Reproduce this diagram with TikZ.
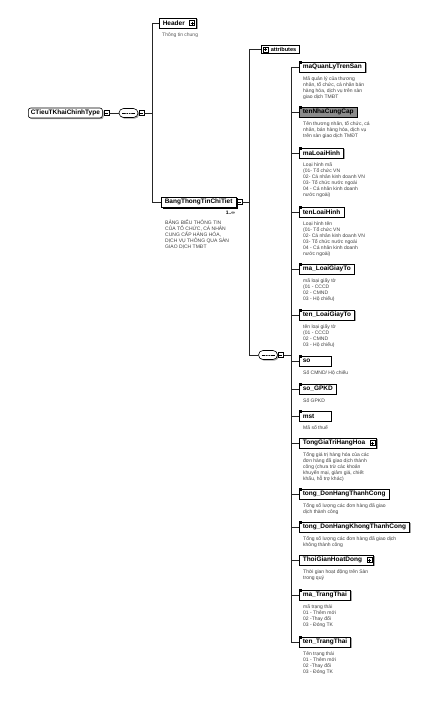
\documentclass[tikz,border=0pt]{standalone}
\usepackage{fontspec}
\setmainfont{Liberation Sans}
\usetikzlibrary{shapes.misc,shadows,calc}

\tikzset{
  ln/.style={line width=0.6pt, draw=black!85},
  shad/.style={drop shadow={shadow xshift=1.2pt, shadow yshift=-1.2pt, fill=black!50, opacity=0.7}},
  elbox/.style={draw=black, line width=0.6pt, fill=white, anchor=west, minimum height=10pt, minimum width=32pt,
    inner xsep=3.5pt, inner ysep=0pt, font=\fontsize{6.5}{7}\selectfont\bfseries, shad},
  selbox/.style={elbox, fill=black!45},
  descr/.style={anchor=north west, align=left, inner sep=0pt, text=black!75, font=\fontsize{5}{6}\selectfont},
  iconbox/.style={draw, fill=white, line width=0.45pt, minimum size=5pt, inner sep=0pt},
  plusicon/.style={iconbox, path picture={
     \draw[line width=0.4pt] ([xshift=1pt]path picture bounding box.west) -- ([xshift=-1pt]path picture bounding box.east);
     \draw[line width=0.4pt] ([yshift=-1pt]path picture bounding box.north) -- ([yshift=1pt]path picture bounding box.south);}},
  minusicon/.style={iconbox, path picture={
     \draw[line width=0.4pt] ([xshift=1pt]path picture bounding box.west) -- ([xshift=-1pt]path picture bounding box.east);}},
  seqbox/.style={rounded rectangle, draw, line width=0.6pt, fill=white, minimum width=19pt, minimum height=9pt,
    inner sep=0pt, shad, path picture={
     \draw[line width=0.4pt] ([xshift=3pt]path picture bounding box.west) -- ([xshift=-3pt]path picture bounding box.east);
     \fill (path picture bounding box.center) circle (0.75pt);
     \fill ([xshift=-2.3pt]path picture bounding box.center) circle (0.75pt);
     \fill ([xshift=2.3pt]path picture bounding box.center) circle (0.75pt);}},
  typebox/.style={draw, line width=0.6pt, fill=white, rounded corners=2.5pt, anchor=west, minimum height=10pt,
    inner xsep=2.5pt, inner ysep=0pt, font=\fontsize{6.5}{7}\selectfont\bfseries, shad},
  attrbox/.style={draw, line width=0.6pt, fill=white, anchor=west, minimum height=7.5pt, inner xsep=2.5pt, inner ysep=0pt,
    font=\fontsize{5.6}{6}\selectfont\bfseries},
  multbox/.style={elbox, copy shadow={shadow xshift=1.6pt, shadow yshift=-1.6pt, fill=white, draw=black, line width=0.6pt}},
}
\newcommand\tlmark[1]{\fill[black] ([xshift=0.2pt,yshift=1pt]#1.north west) rectangle ([xshift=2.6pt,yshift=-2.6pt]#1.north west);}
\newcommand\icongap{\rule{8pt}{0pt}}

\begin{document}
\begin{tikzpicture}[x=1pt,y=-1pt]
\useasboundingbox (0,0) rectangle (443,702);
\fill[white] (0,0) rectangle (443,702);

% vertical rails
\coordinate (v1) at (152,0);
\coordinate (v2) at (249,0);
\coordinate (v3) at (291,0);

% root type and first sequence
\node[typebox] (root) at (28,113) {CTieuTKhaiChinhType};
\node[minusicon] (rooti) at ([xshift=4pt]root.east) {};
\node[seqbox] (seq1) at (128.5,113) {};
\node[minusicon] (seq1i) at ([xshift=3pt]seq1.east) {};

% level 1
\node[elbox, minimum width=20pt] (header) at (159,23) {Header\icongap};
\node[plusicon] (headeri) at ([xshift=-4.5pt]header.east) {};
\node[descr, text=black!65] (headerd) at ([xshift=3pt,yshift=-4pt]header.south west) {Thông tin chung};

\node[multbox] (bang) at (161,202) {BangThongTinChiTiet};
\node[minusicon] (bangi) at ([xshift=3pt]bang.east) {};
\node[anchor=north east, inner sep=0pt, font=\fontsize{5}{6}\selectfont\bfseries] (bangm) at ([xshift=-1pt,yshift=-4pt]bang.south east) {1..∞};
\node[descr] (bangd) at ([xshift=4pt,yshift=-13pt]bang.south west) {BẢNG BIỂU THÔNG TIN\\CỦA TỔ CHỨC, CÁ NHÂN\\CUNG CẤP HÀNG HÓA,\\DỊCH VỤ THÔNG QUA SÀN\\GIAO DỊCH TMĐT};

% level 2
\node[attrbox] (attr) at (261,49.5) {\rule{7pt}{0pt}attributes};
\node[plusicon] (attri) at ([xshift=4.5pt]attr.west) {};
\node[seqbox] (seq2) at (268,355) {};
\node[minusicon] (seq2i) at ([xshift=3pt]seq2.east) {};

% children
\node[elbox] (m1) at (299,67) {maQuanLyTrenSan};
\node[selbox] (m2) at (299,112) {tenNhaCungCap};
\node[elbox] (m3) at (299,153) {maLoaiHinh};
\node[elbox] (m4) at (299,212) {tenLoaiHinh};
\node[elbox] (m5) at (299,269) {ma\_LoaiGiayTo};
\node[elbox] (m6) at (299,315) {ten\_LoaiGiayTo};
\node[elbox, minimum width=20pt] (m7) at (299,361) {so\rule{17pt}{0pt}};
\node[elbox] (m8) at (299,389) {so\_GPKD};
\node[elbox, minimum width=20pt] (m9) at (299,416) {mst\rule{13pt}{0pt}};
\node[elbox] (m10) at (299,443) {TongGiaTriHangHoa\icongap};
\node[plusicon] (m10i) at ([xshift=-4.5pt]m10.east) {};
\node[elbox] (m11) at (299,494) {tong\_DonHangThanhCong};
\node[elbox] (m12) at (299,527) {tong\_DonHangKhongThanhCong};
\node[elbox] (m13) at (299,560) {ThoiGianHoatDong\icongap};
\node[plusicon] (m13i) at ([xshift=-4.5pt]m13.east) {};
\node[elbox] (m14) at (299,595) {ma\_TrangThai};
\node[elbox] (m15) at (299,642) {ten\_TrangThai};

\foreach \m in {m1,m2,m3,m4,m5,m6,m7,m8,m9,m11,m12,m14,m15} {\tlmark{\m}}

% descriptions
\node[descr] (d1) at ([xshift=4pt,yshift=-4pt]m1.south west) {Mã quản lý của thương\\nhân, tổ chức, cá nhân bán\\hàng hóa, dịch vụ trên sàn\\giao dịch TMĐT};
\node[descr] (d2) at ([xshift=4pt,yshift=-4pt]m2.south west) {Tên thương nhân, tổ chức, cá\\nhân, bán hàng hóa, dịch vụ\\trên sàn giao dịch TMĐT};
\node[descr] (d3) at ([xshift=4pt,yshift=-4pt]m3.south west) {Loại hình mã\\(01- Tổ chức VN\\02- Cá nhân kinh doanh VN\\03- Tổ chức nước ngoài\\04 - Cá nhân kinh doanh\\nước ngoài)};
\node[descr] (d4) at ([xshift=4pt,yshift=-4pt]m4.south west) {Loại hình tên\\(01- Tổ chức VN\\02- Cá nhân kinh doanh VN\\03- Tổ chức nước ngoài\\04 - Cá nhân kinh doanh\\nước ngoài)};
\node[descr] (d5) at ([xshift=4pt,yshift=-4pt]m5.south west) {mã loại giấy tờ\\(01 - CCCD\\02 - CMND\\03 - Hộ chiếu)};
\node[descr] (d6) at ([xshift=4pt,yshift=-4pt]m6.south west) {tên loại giấy tờ\\(01 - CCCD\\02 - CMND\\03 - Hộ chiếu)};
\node[descr] (d7) at ([xshift=4pt,yshift=-4pt]m7.south west) {Số CMND/ Hộ chiếu};
\node[descr] (d8) at ([xshift=4pt,yshift=-4pt]m8.south west) {Số GPKD};
\node[descr] (d9) at ([xshift=4pt,yshift=-4pt]m9.south west) {Mã số thuế};
\node[descr] (d10) at ([xshift=4pt,yshift=-4pt]m10.south west) {Tổng giá trị hàng hóa của các\\đơn hàng đã giao dịch thành\\công (chưa trừ các khoản\\khuyến mại, giảm giá, chiết\\khấu, hỗ trợ khác)};
\node[descr] (d11) at ([xshift=4pt,yshift=-4pt]m11.south west) {Tổng số lượng các đơn hàng đã giao\\dịch thành công};
\node[descr] (d12) at ([xshift=4pt,yshift=-4pt]m12.south west) {Tổng số lượng các đơn hàng đã giao dịch\\không thành công};
\node[descr] (d13) at ([xshift=4pt,yshift=-4pt]m13.south west) {Thời gian hoạt động trên Sàn\\trong quý};
\node[descr] (d14) at ([xshift=4pt,yshift=-4pt]m14.south west) {mã trạng thái\\01 - Thêm mới\\02 -Thay đổi\\03 - Đóng TK};
\node[descr] (d15) at ([xshift=4pt,yshift=-4pt]m15.south west) {Tên trạng thái\\01 - Thêm mới\\02 -Thay đổi\\03 - Đóng TK};

% connectors
\draw[ln] (rooti.east) -- (seq1.west);
\draw[ln] (seq1i.east) -- (v1 |- seq1i.east);
\draw[ln] (header.west) -- (v1 |- header.west) -- (v1 |- bang.west) -- (bang.west);
\draw[ln] (bangi.east) -- (v2 |- bangi.east);
\draw[ln] (attr.west) -- (v2 |- attr.west) -- (v2 |- seq2.west) -- (seq2.west);
\draw[ln] (seq2i.east) -- (v3 |- seq2i.east);
\draw[ln] (m1.west) -- (v3 |- m1.west) -- (v3 |- m15.west) -- (m15.west);
\foreach \m in {m2,m3,m4,m5,m6,m7,m8,m9,m10,m11,m12,m13,m14} {\draw[ln] (\m.west) -- (v3 |- \m.west);}
\end{tikzpicture}
\end{document}
